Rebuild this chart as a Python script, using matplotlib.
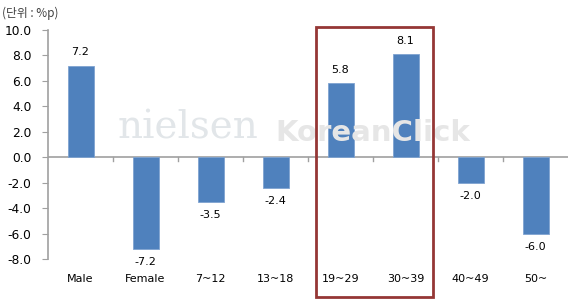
import matplotlib
matplotlib.use("Agg")
import matplotlib.pyplot as plt
from matplotlib.patches import Rectangle

categories = ["Male", "Female", "7~12", "13~18", "19~29", "30~39", "40~49", "50~"]
values = [7.2, -7.2, -3.5, -2.4, 5.8, 8.1, -2.0, -6.0]
yticks = [10.0, 8.0, 6.0, 4.0, 2.0, 0.0, -2.0, -4.0, -6.0, -8.0]

plt.rcParams['font.family'] = ['DejaVu Sans', 'Noto Sans CJK KR']

fig = plt.figure(figsize=(5.72, 3.04), dpi=100)
ax = fig.add_axes([48/572, 45/304, 520/572, 229/304])

x = list(range(len(categories)))
ax.bar(x, values, width=0.4, color="#4F81BD", edgecolor="#7FA3D1", linewidth=0.6, zorder=3)

for xi, v in zip(x, values):
    if v >= 0:
        ax.annotate(f"{v:.1f}", (xi, v), xytext=(0, 6), textcoords="offset points",
                    ha="center", va="bottom", fontsize=8, color="black", zorder=4)
    else:
        ax.annotate(f"{v:.1f}", (xi, v), xytext=(0, -6), textcoords="offset points",
                    ha="center", va="top", fontsize=8, color="black", zorder=4)

ax.set_xlim(-0.5, len(categories) - 0.5)
ax.set_ylim(-8, 10)
ax.set_yticks(yticks)
ax.set_yticklabels([f"{t:.1f}" for t in yticks], fontsize=8.8)
ax.set_xticks(x)
ax.set_xticklabels(categories, fontsize=8)
ax.tick_params(axis="x", length=0, pad=11)
ax.tick_params(axis="y", length=4, color="#A0A0A0", direction="out", pad=8)

for s in ["top", "right", "bottom"]:
    ax.spines[s].set_visible(False)
ax.spines["left"].set_color("#A0A0A0")
ax.spines["left"].set_linewidth(1.2)

# zero line with small ticks at category boundaries
ax.axhline(0, color="#A0A0A0", linewidth=1.2, zorder=2)
for b in range(1, len(categories)):
    ax.plot([b - 0.5, b - 0.5], [0, -0.3], color="#A0A0A0", linewidth=1.0, zorder=2)

# watermark
fig.text(118/572, 1 - 128/304, "nielsen", fontsize=28, family="DejaVu Serif", color="#E2E6E9",
         va="center", ha="left", zorder=0)
fig.text(275/572, 1 - 133/304, "KoreanClick", fontsize=21, fontweight="bold", color="#E6E6E6",
         va="center", ha="left", zorder=0)

fig.text(2/572, 1 - 13/304, "(단위 : %p)", fontsize=8.5, color="#404040",
         family=["Noto Sans CJK KR", "DejaVu Sans"], va="center", ha="left")

fig.add_artist(Rectangle((316/572, 1 - 297/304), (433 - 316)/572, (297 - 27)/304,
                         transform=fig.transFigure, fill=False, edgecolor="#953735",
                         linewidth=2.0, zorder=5))

fig.savefig("out.png", dpi=100)
